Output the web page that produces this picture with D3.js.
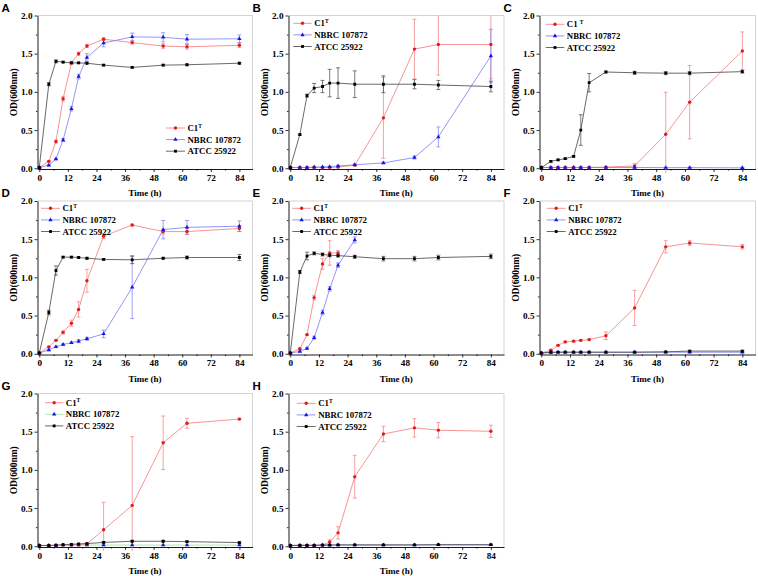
<!DOCTYPE html>
<html><head><meta charset="utf-8">
<script src="https://cdn.jsdelivr.net/npm/d3@7"></script>
<style>body{margin:0;background:#fff}svg text{font-family:"Liberation Serif","Times New Roman",serif;font-weight:bold}</style>
</head><body>
<svg id="chart" width="758" height="576"></svg>
<script>
// ---------------- data ----------------
const times = [0, 4, 7, 10, 13.5, 16.5, 20, 27, 39, 52, 62, 84];
const panelNames = ["A", "B", "C", "D", "E", "F", "G", "H"];
const seriesNames = ["C1", "NBRC 107872", "ATCC 25922"];
const xTicks = [0, 12, 24, 36, 48, 60, 72, 84];
const xMinorTicks = [6, 18, 30, 42, 54, 66, 78];
const yTicks = [0, 0.5, 1.0, 1.5, 2.0];
const yMinorTicks = [0.25, 0.75, 1.25, 1.75];
const xTitle = "Time (h)";
const yTitle = "OD(600nm)";

// C1T mean OD per panel (A..H)
const c1Mean = [
  [0.01, 0.09, 0.35, 0.91, 1.38, 1.50, 1.60, 1.69, 1.645, 1.60, 1.59, 1.61],
  [0.01, 0.01, 0.01, 0.01, 0.01, 0.01, 0.015, 0.04, 0.66, 1.56, 1.62, 1.62],
  [0.01, 0.01, 0.01, 0.01, 0.01, 0.01, 0.01, 0.015, 0.03, 0.445, 0.865, 1.535],
  [0.01, 0.09, 0.175, 0.28, 0.40, 0.58, 0.955, 1.54, 1.685, 1.60, 1.60, 1.64],
  [0.01, 0.065, 0.25, 0.735, 1.175, 1.32, 1.32, null, null, null, null, null],
  [0.01, 0.045, 0.11, 0.155, 0.165, 0.175, 0.185, 0.235, 0.60, 1.40, 1.45, 1.40],
  [0.01, 0.01, 0.01, 0.015, 0.015, 0.02, 0.03, 0.215, 0.535, 1.355, 1.61, 1.665],
  [0.01, 0.01, 0.01, 0.01, 0.015, 0.055, 0.175, 0.91, 1.47, 1.55, 1.52, 1.505]
];
const c1Err = [
  [0.005, 0.01, 0.02, 0.03, 0.02, 0.02, 0.02, 0.02, 0.02, 0.03, 0.03, 0.03],
  [0.005, 0.005, 0.005, 0.005, 0.005, 0.005, 0.01, 0.01, 0.53, 0.39, 0.40, 0.45],
  [0.005, 0.005, 0.005, 0.005, 0.005, 0.005, 0.005, 0.01, 0.03, 0.55, 0.48, 0.25],
  [0.005, 0.01, 0.01, 0.02, 0.04, 0.10, 0.15, 0.03, 0.01, 0.03, 0.04, 0.04],
  [0.005, 0.01, 0.01, 0.03, 0.07, 0.16, 0.03, null, null, null, null, null],
  [0.005, 0.01, 0.01, 0.01, 0.01, 0.01, 0.01, 0.05, 0.23, 0.08, 0.03, 0.03],
  [0.005, 0.005, 0.005, 0.005, 0.005, 0.005, 0.01, 0.36, 0.90, 0.35, 0.065, 0.01],
  [0.005, 0.005, 0.005, 0.005, 0.005, 0.03, 0.08, 0.28, 0.10, 0.12, 0.10, 0.08]
];
// NBRC 107872 mean OD per panel
const nbrcMean = [
  [0.01, 0.04, 0.12, 0.37, 0.78, 1.20, 1.45, 1.64, 1.72, 1.715, 1.69, 1.695],
  [0.01, 0.01, 0.01, 0.015, 0.015, 0.02, 0.03, 0.045, 0.07, 0.14, 0.41, 1.47],
  [0.01, 0.01, 0.01, 0.01, 0.01, 0.01, 0.01, 0.01, 0.01, 0.008, 0.008, 0.005],
  [0.01, 0.05, 0.09, 0.12, 0.145, 0.165, 0.195, 0.26, 0.87, 1.625, 1.655, 1.67],
  [0.01, 0.03, 0.07, 0.21, 0.54, 0.85, 1.16, 1.49, null, null, null, null],
  [0.01, 0.015, 0.02, 0.02, 0.02, 0.02, 0.02, 0.02, 0.02, 0.02, 0.02, 0.02],
  [0.01, 0.01, 0.01, 0.015, 0.015, 0.015, 0.015, 0.015, 0.015, 0.015, 0.015, 0.015],
  [0.01, 0.012, 0.012, 0.012, 0.015, 0.015, 0.015, 0.015, 0.015, 0.015, 0.018, 0.018]
];
const nbrcErr = [
  [0.005, 0.01, 0.01, 0.02, 0.03, 0.03, 0.05, 0.05, 0.05, 0.06, 0.06, 0.05],
  [0.005, 0.005, 0.005, 0.005, 0.005, 0.005, 0.01, 0.01, 0.01, 0.02, 0.13, 0.35],
  [0.005, 0.005, 0.005, 0.005, 0.005, 0.005, 0.005, 0.005, 0.005, 0.005, 0.005, 0.005],
  [0.005, 0.01, 0.01, 0.01, 0.01, 0.02, 0.02, 0.05, 0.41, 0.12, 0.09, 0.07],
  [0.005, 0.01, 0.01, 0.02, 0.03, 0.03, 0.03, 0.04, null, null, null, null],
  [0.005, 0.005, 0.005, 0.005, 0.005, 0.005, 0.005, 0.005, 0.005, 0.005, 0.005, 0.005],
  [0.005, 0.005, 0.005, 0.005, 0.005, 0.005, 0.005, 0.005, 0.005, 0.005, 0.005, 0.005],
  [0.005, 0.005, 0.005, 0.005, 0.005, 0.005, 0.005, 0.005, 0.005, 0.005, 0.005, 0.005]
];
// ATCC 25922 mean OD per panel
const atccMean = [
  [0.01, 1.10, 1.40, 1.39, 1.38, 1.38, 1.375, 1.35, 1.32, 1.35, 1.355, 1.375],
  [0.01, 0.44, 0.95, 1.05, 1.07, 1.115, 1.115, 1.10, 1.10, 1.10, 1.09, 1.07],
  [0.01, 0.09, 0.11, 0.125, 0.155, 0.50, 1.12, 1.26, 1.25, 1.245, 1.245, 1.265],
  [0.01, 0.54, 1.09, 1.265, 1.265, 1.26, 1.25, 1.235, 1.23, 1.25, 1.26, 1.26],
  [0.01, 1.07, 1.28, 1.315, 1.30, 1.29, 1.285, 1.27, 1.245, 1.245, 1.26, 1.275],
  [0.01, 0.02, 0.02, 0.02, 0.02, 0.02, 0.02, 0.02, 0.02, 0.025, 0.035, 0.035],
  [0.01, 0.01, 0.015, 0.02, 0.025, 0.03, 0.035, 0.05, 0.065, 0.065, 0.06, 0.048],
  [0.01, 0.012, 0.012, 0.012, 0.015, 0.015, 0.018, 0.018, 0.018, 0.018, 0.02, 0.02]
];
const atccErr = [
  [0.005, 0.02, 0.02, 0.01, 0.01, 0.01, 0.01, 0.01, 0.01, 0.01, 0.01, 0.01],
  [0.005, 0.01, 0.02, 0.06, 0.08, 0.18, 0.20, 0.175, 0.11, 0.06, 0.06, 0.07],
  [0.005, 0.01, 0.01, 0.01, 0.01, 0.20, 0.12, 0.01, 0.02, 0.02, 0.02, 0.02],
  [0.005, 0.03, 0.06, 0.01, 0.01, 0.01, 0.01, 0.01, 0.05, 0.01, 0.02, 0.04],
  [0.005, 0.02, 0.05, 0.02, 0.02, 0.02, 0.02, 0.02, 0.03, 0.03, 0.03, 0.03],
  [0.005, 0.005, 0.005, 0.005, 0.005, 0.005, 0.005, 0.005, 0.005, 0.005, 0.01, 0.01],
  [0.005, 0.005, 0.005, 0.005, 0.005, 0.005, 0.005, 0.01, 0.01, 0.01, 0.01, 0.01],
  [0.005, 0.005, 0.005, 0.005, 0.005, 0.005, 0.005, 0.005, 0.005, 0.005, 0.005, 0.005]
];

// ---------------- layout & style ----------------
const colLeft = [37.5, 288.5, 539.5];
const colRight = [252.5, 504, 755.5];
const rowTop = [15.5, 201, 393.5];
const rowBottom = [169, 354.5, 547];
const legendPos = [ // x1, x2, y of first row
  [166, 185, 128], [293.3, 311.7, 23.3], [545.7, 564.3, 24.3],
  [41, 60, 208.3], [292.3, 311, 208.3], [546.7, 565.7, 208.3],
  [45, 63.3, 402.7], [296.7, 315.7, 403.3]
];
const markerColor = ["#e41a1c", "#1414e6", "#000000"];
const lineColor = ["#f47a7a", "#7a7af5", "#444444"];
const greenLine = "#9ae29a";

const svg = d3.select("#chart");
const symbols = [d3.symbolCircle, d3.symbolTriangle, d3.symbolSquare];
const symSize = [9, 8, 8];

panelNames.forEach((name, p) => {
  const col = p % 3, row = Math.floor(p / 3);
  const L = colLeft[col], R = colRight[col], T = rowTop[row], B = rowBottom[row];
  const x = d3.scaleLinear().domain([-0.75, 89.5]).range([L, R]);
  const y = d3.scaleLinear().domain([-0.01, 2.0]).range([B, T]);
  const g = svg.append("g");

  // frame top/right
  g.append("path").attr("d", `M${L},${T}H${R}V${B}`).attr("fill", "none")
    .attr("stroke", "#c8c8c8").attr("stroke-width", 0.8);

  // axes
  const xa = g.append("g").attr("transform", `translate(0,${B})`)
    .call(d3.axisBottom(x).tickValues(xTicks).tickSize(3).tickSizeOuter(0).tickPadding(2).tickFormat(d3.format("d")));
  g.append("g").attr("transform", `translate(0,${B})`)
    .call(d3.axisBottom(x).tickValues(xMinorTicks).tickSize(1.6).tickSizeOuter(0).tickFormat(""))
    .select(".domain").remove();
  const ya = g.append("g").attr("transform", `translate(${L},0)`)
    .call(d3.axisLeft(y).tickValues(yTicks).tickSize(3).tickSizeOuter(0).tickPadding(2).tickFormat(d3.format(".1f")));
  g.append("g").attr("transform", `translate(${L},0)`)
    .call(d3.axisLeft(y).tickValues(yMinorTicks).tickSize(1.6).tickSizeOuter(0).tickFormat(""))
    .select(".domain").remove();
  [xa, ya].forEach(a => {
    a.selectAll("text").attr("font-family", "Liberation Serif").attr("font-weight", "bold")
      .attr("font-size", 9.2).attr("fill", "#000");
    a.select(".domain").attr("stroke", "#000").attr("stroke-width", 0.9);
  });
  svg.selectAll(".tick line").attr("stroke", "#000").attr("stroke-width", 0.8);

  // titles
  g.append("text").attr("x", (L + R) / 2).attr("y", B + 27).attr("text-anchor", "middle")
    .attr("font-size", 9).text(xTitle);
  g.append("text").attr("transform", `translate(${L - 21},${(T + B) / 2}) rotate(-90)`)
    .attr("text-anchor", "middle").attr("font-size", 9.5).text(yTitle);
  g.append("text").attr("x", L - 36).attr("y", T - 3.8)
    .style("font-family", "'Liberation Sans', Arial, sans-serif").style("font-weight", "bold")
    .attr("font-size", 11.5).text(name);

  // clip
  const cid = "clip" + p;
  svg.append("clipPath").attr("id", cid).append("rect")
    .attr("x", L).attr("y", T).attr("width", R - L).attr("height", B - T + 4);
  const plot = g.append("g").attr("clip-path", `url(#${cid})`);

  const means = [c1Mean[p], nbrcMean[p], atccMean[p]];
  const errs = [c1Err[p], nbrcErr[p], atccErr[p]];

  means.forEach((m, s) => {
    const pts = times.map((t, i) => ({ t, v: m[i], e: errs[s][i] })).filter(d => d.v != null);
    const lc = (s === 1 && name === "G") ? greenLine : lineColor[s];
    plot.append("path").datum(pts)
      .attr("d", d3.line().x(d => x(d.t)).y(d => y(d.v)))
      .attr("fill", "none").attr("stroke", lc).attr("stroke-width", 0.8);
    const eb = plot.append("g").attr("stroke", lc).attr("stroke-width", 0.7);
    pts.forEach(d => {
      const y1 = y(d.v + d.e), y2 = y(d.v - d.e), xx = x(d.t);
      eb.append("line").attr("x1", xx).attr("x2", xx).attr("y1", y1).attr("y2", y2);
      eb.append("line").attr("x1", xx - 2).attr("x2", xx + 2).attr("y1", y1).attr("y2", y1);
      eb.append("line").attr("x1", xx - 2).attr("x2", xx + 2).attr("y1", y2).attr("y2", y2);
    });
  });
  means.forEach((m, s) => {
    const pts = times.map((t, i) => ({ t, v: m[i] })).filter(d => d.v != null);
    plot.append("g").selectAll("path").data(pts).join("path")
      .attr("transform", d => `translate(${x(d.t)},${y(d.v)})`)
      .attr("d", d3.symbol().type(symbols[s]).size(symSize[s]))
      .attr("fill", markerColor[s]);
  });

  // legend
  const [lx1, lx2, ly] = legendPos[p];
  seriesNames.forEach((sn, s) => {
    const yy = ly + s * 11.6;
    const lc = (s === 1 && name === "G") ? greenLine : lineColor[s];
    g.append("line").attr("x1", lx1).attr("x2", lx2).attr("y1", yy).attr("y2", yy)
      .attr("stroke", lc).attr("stroke-width", 0.8);
    g.append("path").attr("transform", `translate(${(lx1 + lx2) / 2},${yy})`)
      .attr("d", d3.symbol().type(symbols[s]).size(symSize[s])).attr("fill", markerColor[s]);
    const t = g.append("text").attr("x", lx2 + 2.5).attr("y", yy + 3).attr("font-size", 8.8);
    if (s === 0) {
      t.append("tspan").text(name === "C" ? "C1 " : "C1");
      t.append("tspan").attr("dy", -3.5).attr("font-size", 5.5).text("T");
    } else {
      t.text(sn);
    }
  });
});
</script>
</body></html>
